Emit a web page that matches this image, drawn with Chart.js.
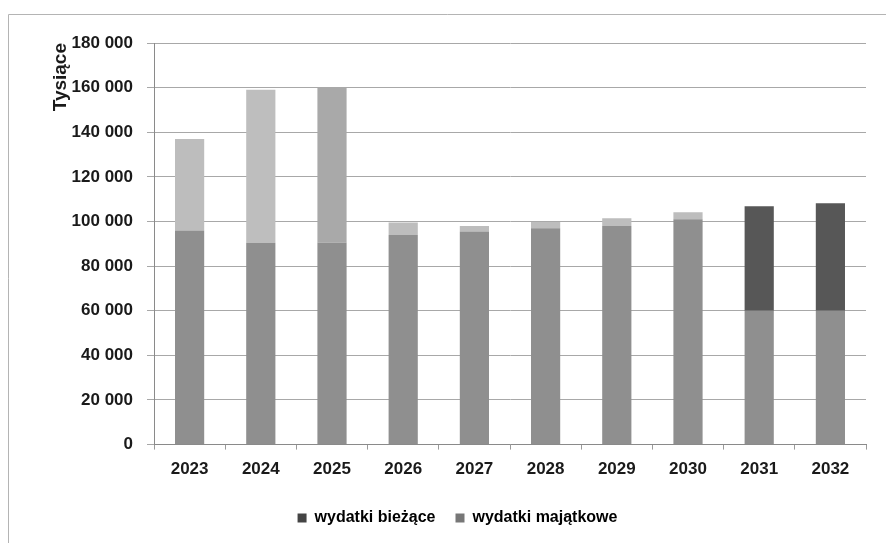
<!DOCTYPE html>
<html>
<head>
<meta charset="utf-8">
<script src="https://cdn.jsdelivr.net/npm/chart.js@4.4.1/dist/chart.umd.min.js"></script>
<style>
  html, body { margin: 0; padding: 0; background: #ffffff; }
  #wrap { position: relative; width: 886px; height: 543px; }
</style>
</head>
<body>
<div id="wrap"><canvas id="chart" width="886" height="543"></canvas></div>
<script>
const years = ['2023', '2024', '2025', '2026', '2027', '2028', '2029', '2030', '2031', '2032'];
const biezace = [96000, 90500, 90500, 94000, 95500, 97000, 98000, 101000, 60000, 60000];
const majatkoweTotal = [137000, 159000, 160000, 99600, 98000, 99800, 101400, 104100, 106800, 108200];
const majatkowe = majatkoweTotal.map((t, i) => t - biezace[i]);
const yTicks = [0, 20000, 40000, 60000, 80000, 100000, 120000, 140000, 160000, 180000];

const FONT = "'Liberation Sans', Arial, sans-serif";

// scanned look: last two capital segments came out dark in the reference
const majColors = ['#bdbdbd', '#bebebe', '#a9a9a9', '#bdbdbd', '#bdbdbd', '#bdbdbd', '#bdbdbd', '#bdbdbd', '#575757', '#575757'];

const framePlugin = {
  id: 'frame',
  beforeDraw(chart) {
    const ctx = chart.ctx;
    ctx.save();
    ctx.strokeStyle = '#b4b4b4';
    ctx.lineWidth = 1;
    ctx.beginPath();
    ctx.moveTo(8.5, 543);
    ctx.lineTo(8.5, 14.5);
    ctx.lineTo(886, 14.5);
    ctx.stroke();
    ctx.restore();
  }
};

new Chart(document.getElementById('chart').getContext('2d'), {
  type: 'bar',
  data: {
    labels: years,
    datasets: [
      {
        label: 'wydatki bieżące',
        data: biezace,
        backgroundColor: '#8f8f8f',
        barPercentage: 0.41,
        categoryPercentage: 1
      },
      {
        label: 'wydatki majątkowe',
        data: majatkowe,
        backgroundColor: majColors,
        barPercentage: 0.41,
        categoryPercentage: 1
      }
    ]
  },
  options: {
    responsive: false,
    animation: false,
    layout: { padding: { left: 49, right: 20, top: 43, bottom: 7 } },
    plugins: {
      legend: {
        position: 'bottom',
        labels: {
          boxWidth: 9,
          boxHeight: 9,
          padding: 20,
          color: '#1a1a1a',
          font: { family: FONT, size: 16, weight: 'bold' },
          generateLabels(chart) {
            return chart.data.datasets.map((ds, i) => ({
              text: ds.label,
              fillStyle: i === 0 ? '#444444' : '#777777',
              strokeStyle: 'transparent',
              lineWidth: 0,
              datasetIndex: i
            }));
          }
        }
      },
      tooltip: { enabled: false }
    },
    scales: {
      x: {
        stacked: true,
        grid: {
          display: true,
          offset: true,
          drawOnChartArea: false,
          drawTicks: true,
          tickLength: 5,
          color: '#9a9a9a'
        },
        border: { color: '#8a8a8a', width: 1 },
        ticks: {
          color: '#1a1a1a',
          padding: 10,
          font: { family: FONT, size: 17, weight: 'bold' }
        }
      },
      y: {
        stacked: true,
        min: 0,
        max: 180000,
        afterBuildTicks(scale) {
          scale.ticks = yTicks.map(v => ({ value: v }));
        },
        afterFit(scale) {
          scale.width = 105;
        },
        grid: {
          color: '#a8a8a8',
          tickLength: 7,
          lineWidth: 1
        },
        border: { color: '#8a8a8a', width: 1 },
        title: {
          display: true,
          text: 'Tysiące',
          align: 'end',
          color: '#1a1a1a',
          padding: { top: 0, bottom: 2 },
          font: { family: FONT, size: 19, weight: 'bold' }
        },
        ticks: {
          color: '#1a1a1a',
          padding: 14,
          font: { family: FONT, size: 17, weight: 'bold' },
          callback: v => String(v).replace(/\B(?=(\d{3})+(?!\d))/g, ' ')
        }
      }
    }
  },
  plugins: [framePlugin]
});
</script>
</body>
</html>
